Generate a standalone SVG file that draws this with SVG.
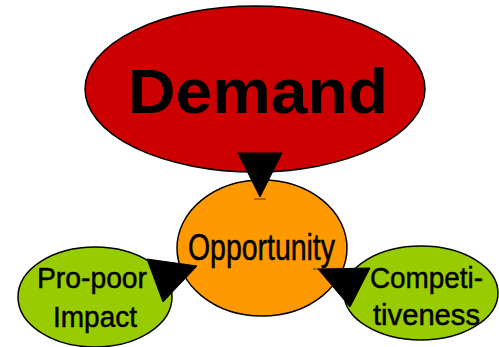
<svg xmlns="http://www.w3.org/2000/svg" width="499" height="347" viewBox="0 0 499 347">
<style>
.n{stroke:#000;stroke-width:1.5}
.lbl{font-family:"Liberation Sans Narrow","Liberation Sans",Arial,sans-serif;fill:#000;stroke:#000;stroke-width:0.5;text-anchor:middle}
.big{font-family:"Liberation Sans",Arial,sans-serif;font-weight:bold;fill:#000;text-anchor:middle}
.ah{fill:#000;stroke:#000;stroke-width:1}
</style>
<rect width="499" height="347" fill="#fff"/>
<g id="demand">
<ellipse class="n" cx="255" cy="89" rx="170" ry="83" fill="#CC0000"/>
<text class="big" x="258" y="113" font-size="63" textLength="260" lengthAdjust="spacingAndGlyphs">Demand</text>
</g>
<g id="opportunity">
<ellipse class="n" cx="262" cy="248" rx="85" ry="68" fill="#FF9900"/>
<text class="lbl" x="261.5" y="260" font-size="36" textLength="147" lengthAdjust="spacingAndGlyphs">Opportunity</text>
</g>
<g id="propoor">
<ellipse class="n" cx="95" cy="297" rx="77" ry="50" fill="#99CC00"/>
<text class="lbl" x="92" y="288" font-size="30" textLength="110" lengthAdjust="spacingAndGlyphs">Pro-poor</text>
<text class="lbl" x="95" y="327" font-size="30" textLength="84" lengthAdjust="spacingAndGlyphs">Impact</text>
</g>
<g id="competitiveness">
<ellipse class="n" cx="421" cy="293" rx="77" ry="47" fill="#99CC00"/>
<text class="lbl" x="426.5" y="288" font-size="30" textLength="113" lengthAdjust="spacingAndGlyphs">Competi-</text>
<text class="lbl" x="426.5" y="325" font-size="30" textLength="107" lengthAdjust="spacingAndGlyphs">tiveness</text>
</g>
<g id="connectors">
<line x1="254" y1="199" x2="266" y2="199" stroke="#663300" stroke-width="1"/>
<polygon class="ah" points="238,153 282,153 260,197"/>
<polygon class="ah" points="147,259 163,302 197,266"/>
<line x1="313" y1="269" x2="320" y2="269" stroke="#663300" stroke-width="1"/>
<polygon class="ah" points="370,268 350,307 318,269"/>
</g>
</svg>
